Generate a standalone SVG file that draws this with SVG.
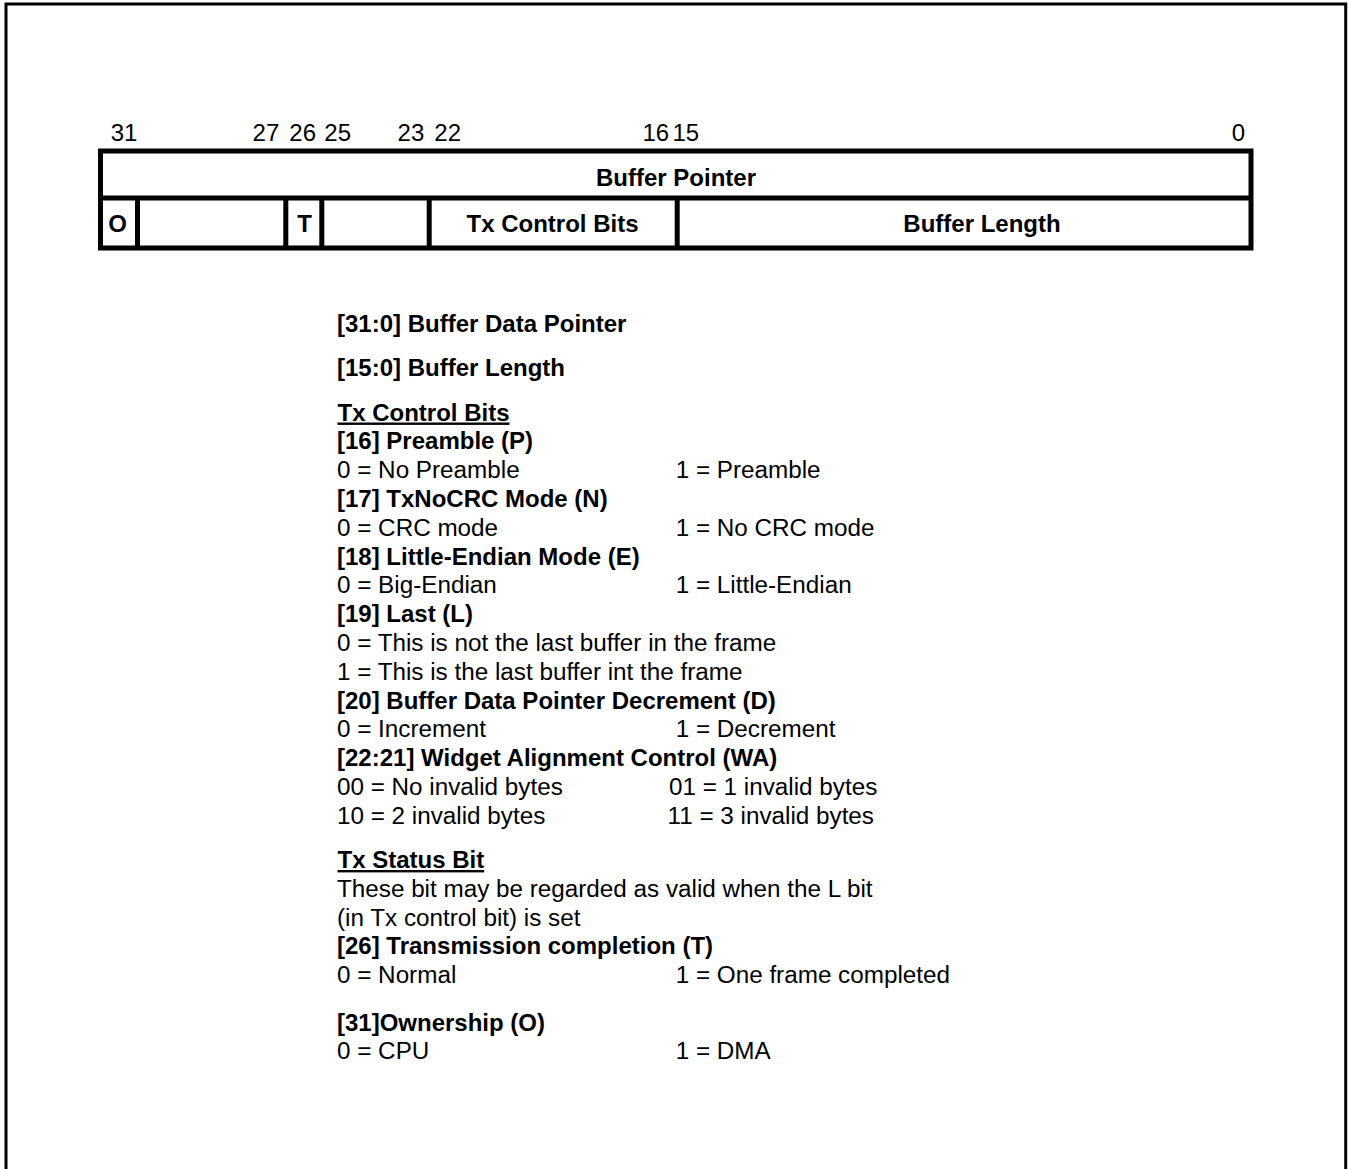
<svg xmlns="http://www.w3.org/2000/svg" width="1351" height="1169" viewBox="0 0 1351 1169">
<style>
text{font-family:"Liberation Sans",Arial,Helvetica,sans-serif;font-size:24.25px;fill:#000}
.b{font-weight:bold;font-size:24px}
.n{font-size:24px}
.c{text-anchor:middle}
.u{text-decoration:underline}
.ln{stroke:#000;stroke-width:5;fill:none}
</style>
<rect width="1351" height="1169" fill="#fff"/>
<g id="frame"><rect x="6" y="4" width="1339.7" height="1220" fill="none" stroke="#000" stroke-width="3"/></g>
<g id="bit-numbers">
<text class="n" x="110.7" y="141">31</text>
<text class="n" x="252.6" y="141">27</text>
<text class="n" x="289.3" y="141">26</text>
<text class="n" x="324.3" y="141">25</text>
<text class="n" x="397.6" y="141">23</text>
<text class="n" x="434.3" y="141">22</text>
<text class="n" x="642.4" y="141">16</text>
<text class="n" x="672.4" y="141">15</text>
<text class="n" x="1231.7" y="141">0</text>
</g>
<g id="register">
<rect class="ln" x="100.5" y="151" width="1150.5" height="97"/>
<line class="ln" x1="100.5" y1="198" x2="1251" y2="198"/>
<line class="ln" x1="137.5" y1="198" x2="137.5" y2="248"/>
<line class="ln" x1="285.8" y1="198" x2="285.8" y2="248"/>
<line class="ln" x1="321.8" y1="198" x2="321.8" y2="248"/>
<line class="ln" x1="429.2" y1="198" x2="429.2" y2="248"/>
<line class="ln" x1="677.2" y1="198" x2="677.2" y2="248"/>
<text class="b c" x="676" y="185.5">Buffer Pointer</text>
<text class="b c" x="117.5" y="232.3">O</text>
<text class="b c" x="304.5" y="232.3">T</text>
<text class="b c" x="552.5" y="232.3">Tx Control Bits</text>
<text class="b c" x="982" y="232.3">Buffer Length</text>
</g>
<g id="descriptions">
<text class="b" x="337" y="331.5">[31:0] Buffer Data Pointer</text>
<text class="b" x="337" y="376">[15:0] Buffer Length</text>
<text class="b u" x="337.5" y="420.5">Tx Control Bits</text>
<text class="b" x="337" y="449.3">[16] Preamble (P)</text>
<text x="337" y="478.1">0 = No Preamble</text>
<text x="675.7" y="478.1">1 = Preamble</text>
<text class="b" x="337" y="506.9">[17] TxNoCRC Mode (N)</text>
<text x="337" y="535.7">0 = CRC mode</text>
<text x="675.7" y="535.7">1 = No CRC mode</text>
<text class="b" x="337" y="564.5">[18] Little-Endian Mode (E)</text>
<text x="337" y="593.3">0 = Big-Endian</text>
<text x="675.7" y="593.3">1 = Little-Endian</text>
<text class="b" x="337" y="622.1">[19] Last (L)</text>
<text x="337" y="650.9">0 = This is not the last buffer in the frame</text>
<text x="337" y="679.7">1 = This is the last buffer int the frame</text>
<text class="b" x="337" y="708.5">[20] Buffer Data Pointer Decrement (D)</text>
<text x="337" y="737.3">0 = Increment</text>
<text x="675.7" y="737.3">1 = Decrement</text>
<text class="b" x="337" y="766.1">[22:21] Widget Alignment Control (WA)</text>
<text x="337" y="794.9">00 = No invalid bytes</text>
<text x="669" y="794.9">01 = 1 invalid bytes</text>
<text x="337" y="823.7">10 = 2 invalid bytes</text>
<text x="667.5" y="823.7">11 = 3 invalid bytes</text>
<text class="b u" x="337.5" y="868">Tx Status Bit</text>
<text x="337" y="896.8">These bit may be regarded as valid when the L bit</text>
<text x="337" y="925.6">(in Tx control bit) is set</text>
<text class="b" x="337" y="954.4">[26] Transmission completion (T)</text>
<text x="337" y="983.2">0 = Normal</text>
<text x="675.7" y="983.2">1 = One frame completed</text>
<text class="b" x="337" y="1031">[31]Ownership (O)</text>
<text x="337" y="1059">0 = CPU</text>
<text x="675.7" y="1059">1 = DMA</text>
</g>
</svg>
